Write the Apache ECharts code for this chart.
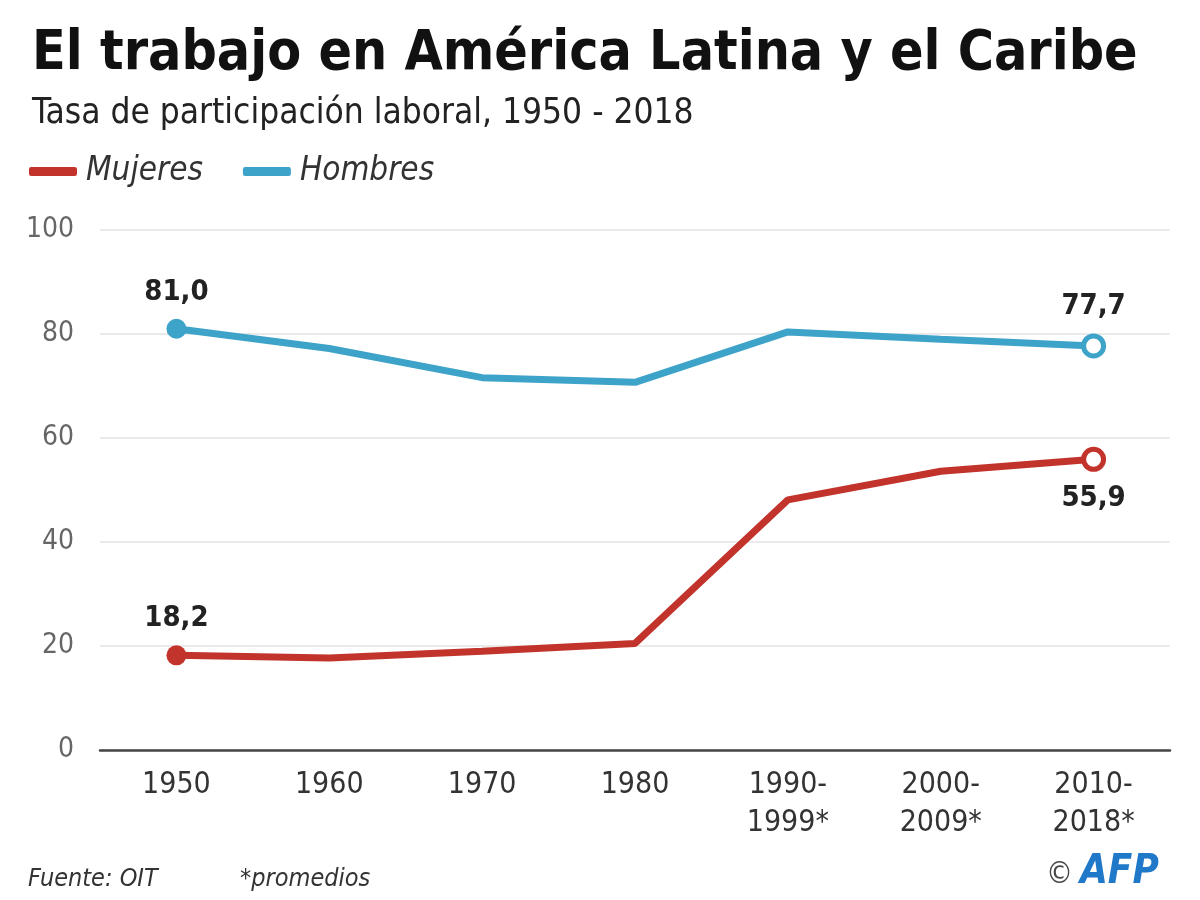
<!DOCTYPE html>
<html>
<head>
<meta charset="utf-8">
<script src="https://cdn.jsdelivr.net/npm/echarts@6/dist/echarts.min.js"></script>
<style>
html,body{margin:0;padding:0;background:#fff;}
#chart{width:1200px;height:900px;}
</style>
</head>
<body>
<div id="chart"></div>
<script>
var categories = ['1950', '1960', '1970', '1980', '1990-\n1999*', '2000-\n2009*', '2010-\n2018*'];
var mujeres = [18.2, 17.7, 19.0, 20.5, 48.1, 53.6, 55.9];
var hombres = [81.0, 77.2, 71.6, 70.7, 80.4, 79.0, 77.7];
var yTicks = [0, 20, 40, 60, 80, 100];

var RED = '#c2342b';
var BLUE = '#3ea3c9';
var FONT = "'Liberation Sans Narrow', 'DejaVu Sans Condensed', Lato, sans-serif";

function fmt(v) { return v.toFixed(1).replace('.', ','); }

function buildData(values, color, labelPosFirst, labelPosLast) {
  var n = values.length;
  return values.map(function (v, i) {
    if (i === 0) {
      return { value: v, symbol: 'circle', symbolSize: 20,
        itemStyle: { color: color },
        label: { show: true, position: labelPosFirst } };
    }
    if (i === n - 1) {
      return { value: v, symbol: 'circle', symbolSize: 20,
        itemStyle: { color: '#fff', borderColor: color, borderWidth: 5 },
        label: { show: true, position: labelPosLast } };
    }
    return { value: v, symbol: 'none' };
  });
}

var labelStyle = {
  fontFamily: FONT, fontSize: 29, fontWeight: 'bold', color: '#222',
  distance: 12,
  formatter: function (p) { return fmt(p.value); }
};

var chart = echarts.init(document.getElementById('chart'), null, { renderer: 'canvas' });
chart.setOption({
  backgroundColor: '#fff',
  animation: false,
  title: [
    { text: 'El trabajo en América Latina y el Caribe', left: 27, top: 22,
      textStyle: { fontFamily: FONT, fontSize: 55, fontWeight: 'bold', color: '#111' } },
    { text: 'Tasa de participación laboral, 1950 - 2018', left: 27, top: 91,
      textStyle: { fontFamily: FONT, fontSize: 35, fontWeight: 'normal', color: '#222' } }
  ],
  legend: {
    left: 24, top: 150,
    itemWidth: 48, itemHeight: 9, itemGap: 40,
    icon: 'roundRect',
    textStyle: { fontFamily: FONT, fontSize: 33, fontStyle: 'italic', color: '#333', padding: [0, 0, 0, 4] },
    data: ['Mujeres', 'Hombres']
  },
  grid: { left: 100, right: 30, top: 230, bottom: 150, containLabel: false },
  xAxis: {
    type: 'category',
    data: categories,
    boundaryGap: true,
    axisLine: { lineStyle: { color: '#444', width: 2.5 } },
    axisTick: { show: false },
    axisLabel: { fontFamily: FONT, fontSize: 30, color: '#333', margin: 16, lineHeight: 38 }
  },
  yAxis: {
    type: 'value',
    min: yTicks[0], max: yTicks[yTicks.length - 1], interval: 20,
    axisLine: { show: false },
    axisTick: { show: false },
    axisLabel: { fontFamily: FONT, fontSize: 28, color: '#666', margin: 26 },
    splitLine: { lineStyle: { color: '#e3e3e3', width: 1.5 } }
  },
  series: [
    { name: 'Mujeres', type: 'line', color: RED,
      lineStyle: { width: 7, color: RED }, itemStyle: { color: RED },
      label: labelStyle,
      data: buildData(mujeres, RED, 'top', 'bottom') },
    { name: 'Hombres', type: 'line', color: BLUE,
      lineStyle: { width: 7, color: BLUE }, itemStyle: { color: BLUE },
      label: labelStyle,
      data: buildData(hombres, BLUE, 'top', 'top') }
  ],
  graphic: [
    { type: 'text', left: 28, top: 867,
      style: { text: 'Fuente: OIT', fontFamily: FONT, fontSize: 25, fontStyle: 'italic', fill: '#333' } },
    { type: 'text', left: 240, top: 867,
      style: { text: '*promedios', fontFamily: FONT, fontSize: 25, fontStyle: 'italic', fill: '#333' } },
    { type: 'text', left: 1046, top: 860,
      style: { text: '©', fontFamily: FONT, fontSize: 30, fill: '#444' } },
    { type: 'text', left: 1080, top: 853,
      style: { text: 'AFP', fontFamily: FONT, fontSize: 40, fontWeight: 'bold', fontStyle: 'italic', fill: '#1f78c8' } }
  ]
});
</script>
</body>
</html>
